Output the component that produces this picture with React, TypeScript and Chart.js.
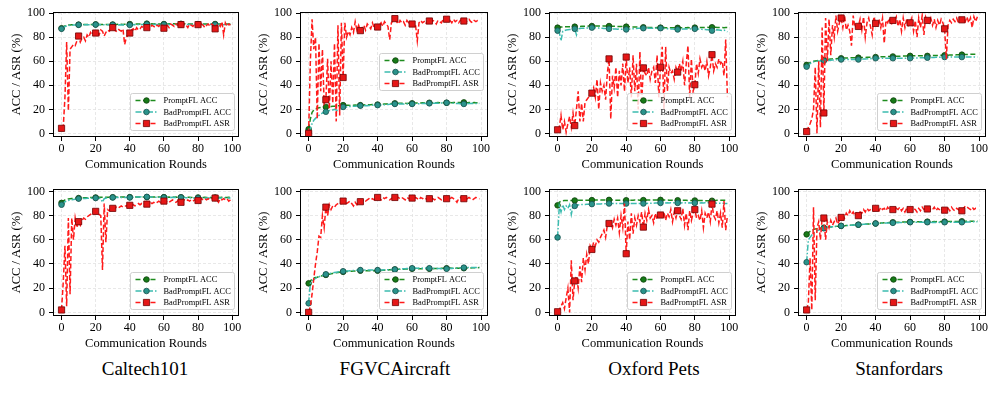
import React, { useEffect, useRef } from 'react';
import { Chart, registerables } from 'chart.js';
Chart.register(...registerables);

const ROUNDS = Array.from({ length: 100 }, (_, i) => i);
const X_TICKS = [0, 20, 40, 60, 80, 100];
const Y_TICKS = [0, 20, 40, 60, 80, 100];
const SERIES_NAMES = ['PromptFL ACC', 'BadPromptFL ACC', 'BadPromptFL ASR'];
const TITLES = ['Caltech101', 'FGVCAircraft', 'Oxford Pets', 'Stanfordars'];
const X_LABEL = 'Communication Rounds';
const Y_LABEL = 'ACC / ASR (%)';

// ---------- top row ----------
const P1_PROMPT = [87.5, 88.6, 89.4, 89.9, 90.1, 90.2, 90.3, 90.3, 90.4, 90.4, 90.5, 90.5, 90.4, 90.5, 90.6, 90.5, 90.6, 90.6, 90.5, 90.6, 90.7, 90.6, 90.6, 90.7, 90.6, 90.7, 90.6, 90.7, 90.7, 90.6, 90.6, 90.7, 90.7, 90.8, 90.7, 90.8, 90.7, 90.8, 90.8, 90.9, 91.0, 90.9, 90.9, 91.0, 91.0, 91.1, 91.0, 91.1, 91.1, 91.2, 91.3, 91.2, 91.1, 91.2, 91.1, 91.2, 91.1, 91.0, 91.1, 91.0, 91.0, 91.1, 91.0, 91.2, 91.1, 91.2, 91.2, 91.1, 91.2, 91.3, 91.2, 91.1, 91.2, 91.1, 91.0, 91.1, 91.0, 91.1, 91.0, 91.1, 91.0, 91.1, 91.0, 91.1, 91.0, 91.1, 91.0, 90.9, 91.0, 91.1, 91.0, 91.1, 91.0, 91.1, 91.2, 91.1, 91.0, 91.1, 91.0, 91.1];
const P1_BAD = [87.0, 88.0, 88.9, 89.4, 89.7, 89.9, 90.0, 90.1, 90.1, 90.2, 90.3, 90.2, 90.3, 90.3, 90.4, 90.3, 90.4, 90.4, 90.5, 90.4, 90.5, 90.4, 90.5, 90.4, 90.5, 90.4, 90.3, 90.4, 90.3, 90.4, 90.3, 90.2, 90.3, 90.2, 90.3, 90.2, 90.3, 90.2, 90.1, 90.2, 90.2, 90.3, 90.4, 90.5, 90.4, 90.5, 90.6, 90.5, 90.6, 90.7, 90.8, 90.7, 90.6, 90.7, 90.6, 90.7, 90.6, 90.5, 90.6, 90.5, 90.6, 90.5, 90.6, 90.5, 90.4, 90.5, 90.4, 90.5, 90.6, 90.5, 90.5, 90.6, 90.5, 90.6, 90.7, 90.6, 90.7, 90.6, 90.7, 90.8, 90.8, 90.7, 90.6, 90.7, 90.6, 90.5, 90.6, 90.5, 90.6, 90.5, 90.5, 90.6, 90.5, 90.6, 90.5, 90.4, 90.5, 90.6, 90.5, 90.6];
const P1_ASR = [4.2, 5, 30, 76, 19, 70, 72, 74, 73, 77, 81, 76, 79, 80, 77, 82, 80, 84, 82, 85, 83.5, 84, 82, 86, 85, 81, 84, 86, 85, 87, 88, 86, 85, 87, 86, 85, 87, 74, 80, 82, 83.5, 86, 87, 85, 88, 86, 87, 89, 88, 87, 88, 89, 88, 90, 89, 88, 90, 89, 91, 90, 87.5, 89, 90, 88, 91, 90, 89, 91, 90, 89, 90.5, 89, 91, 90, 88, 91, 90, 89, 91, 90, 90.5, 89, 91, 90, 88, 90, 91, 89, 91, 90, 87, 90, 91, 89, 93, 82, 92, 89, 91, 90];

const P2_PROMPT = [3.5, 12.0, 17.5, 19.5, 20.5, 21.0, 21.3, 21.5, 21.7, 21.8, 22.0, 22.2, 22.1, 22.3, 22.5, 22.6, 22.8, 23.0, 23.1, 23.3, 23.5, 23.3, 23.4, 23.5, 23.3, 23.4, 23.5, 23.6, 23.4, 23.5, 23.5, 23.6, 23.7, 23.8, 23.7, 23.9, 23.8, 24.0, 23.9, 24.0, 24.0, 24.1, 24.2, 24.3, 24.4, 24.5, 24.6, 24.7, 24.8, 24.9, 25.0, 24.9, 25.0, 25.1, 25.0, 25.1, 25.0, 24.9, 25.0, 25.1, 25.0, 25.1, 25.2, 25.3, 25.2, 25.3, 25.4, 25.3, 25.4, 25.5, 25.5, 25.4, 25.5, 25.6, 25.5, 25.6, 25.5, 25.4, 25.5, 25.6, 25.5, 25.6, 25.7, 25.6, 25.7, 25.8, 25.7, 25.8, 25.7, 25.8, 25.8, 25.7, 25.6, 25.7, 25.6, 25.5, 25.6, 25.5, 25.6, 25.5];
const P2_BAD = [1.0, 4.0, 8.0, 11.0, 12.5, 14.0, 15.0, 16.0, 17.0, 17.5, 18.0, 18.5, 19.0, 19.3, 19.5, 20.0, 19.5, 18.5, 19.5, 20.5, 22.0, 21.5, 22.0, 22.3, 22.5, 22.4, 22.6, 22.5, 22.8, 22.9, 23.0, 23.1, 23.0, 23.2, 23.1, 23.3, 23.2, 23.4, 23.3, 23.5, 23.5, 23.6, 23.7, 23.8, 23.9, 24.0, 24.1, 24.2, 24.3, 24.4, 24.5, 24.4, 24.5, 24.6, 24.5, 24.4, 24.5, 24.6, 24.5, 24.4, 24.5, 24.6, 24.7, 24.8, 24.7, 24.8, 24.9, 24.8, 24.9, 25.0, 25.0, 25.1, 25.0, 25.1, 25.2, 25.1, 25.2, 25.3, 25.4, 25.5, 25.5, 25.4, 25.3, 25.2, 25.1, 25.0, 24.9, 24.8, 24.7, 24.6, 24.5, 24.6, 24.7, 24.8, 24.9, 25.0, 24.9, 25.0, 24.9, 25.0];
const P2_ASR = [0, 60, 95, 70, 80, 12, 75, 35, 70, 25, 28, 62, 20, 60, 25, 75, 10, 90, 15, 92, 46.5, 92, 80, 85, 82, 88, 84, 93, 86, 90, 85.5, 88, 90, 86, 91, 89, 87, 92, 88, 90, 88.5, 90, 92, 89, 93, 91, 89, 78, 92, 94, 95.5, 93, 91, 94, 92, 93, 90, 94, 92, 93, 91, 92, 90, 77, 92, 94, 92, 93, 91, 94, 93.5, 92, 94, 93, 91, 94, 93, 92, 95, 94, 95, 93, 94, 92, 95, 93, 94, 92, 94, 95, 93.5, 92, 94, 95, 93, 92, 94, 93, 94, 94];

const P3_PROMPT = [88.0, 88.3, 88.5, 88.6, 88.7, 88.7, 88.8, 88.7, 88.8, 88.8, 88.8, 88.9, 89.0, 89.0, 89.1, 89.1, 89.2, 89.2, 89.3, 89.3, 89.3, 89.4, 89.3, 89.4, 89.3, 89.4, 89.3, 89.4, 89.3, 89.3, 89.3, 89.2, 89.2, 89.1, 89.1, 89.0, 89.0, 88.9, 88.9, 88.8, 88.8, 88.7, 88.7, 88.6, 88.6, 88.5, 88.5, 88.4, 88.4, 88.3, 88.3, 88.2, 88.3, 88.2, 88.1, 88.2, 88.1, 88.0, 88.1, 88.0, 88.0, 87.9, 88.0, 87.9, 87.8, 87.9, 87.8, 87.9, 87.8, 87.8, 87.8, 87.9, 87.8, 87.9, 88.0, 87.9, 88.0, 87.9, 88.0, 88.0, 88.0, 88.1, 88.0, 88.1, 88.2, 88.1, 88.2, 88.3, 88.2, 88.3, 88.3, 88.2, 88.3, 88.2, 88.1, 88.2, 88.1, 88.0, 88.1, 88.0];
const P3_BAD = [85.5, 84.0, 77.0, 85.0, 85.5, 86.0, 86.2, 86.4, 86.6, 86.8, 87.0, 82.0, 87.0, 87.2, 87.4, 87.5, 87.6, 87.7, 87.8, 87.9, 88.0, 87.9, 87.8, 87.7, 87.6, 87.5, 87.4, 87.3, 87.2, 87.1, 87.0, 86.9, 86.8, 86.9, 86.8, 86.7, 86.8, 86.7, 86.6, 86.5, 86.5, 86.7, 86.9, 87.0, 87.1, 87.2, 87.3, 87.4, 87.5, 87.4, 87.5, 87.6, 87.5, 87.6, 87.5, 87.4, 87.5, 87.6, 87.5, 87.4, 87.5, 87.4, 87.3, 87.2, 87.1, 87.0, 86.9, 86.8, 86.7, 86.6, 86.5, 86.6, 86.7, 86.8, 86.9, 87.0, 86.9, 87.0, 86.9, 87.0, 87.0, 86.9, 86.8, 86.7, 86.6, 86.5, 86.4, 86.3, 86.2, 86.0, 85.5, 85.8, 86.0, 86.2, 86.0, 85.8, 85.6, 86.0, 85.2, 84.5];
const P3_ASR = [3, 5, 15, 3, 10, 1, 8, 14, 5, 17, 6.5, 20, 35, 10, 25, 10, 26, 28, 30, 32, 33.5, 38, 30, 45, 20, 42, 35, 40, 28, 50, 62, 12, 48, 38, 55, 30, 52, 40, 58, 35, 63.5, 42, 55, 30, 65, 35, 58, 20, 68, 25, 54.5, 50, 48, 55, 45, 52, 55, 42, 65, 30, 55, 72, 20, 72, 35, 55, 50, 52, 45, 55, 51, 58, 52, 60, 40, 58, 73, 30, 62, 35, 40.5, 58, 50, 62, 55, 58, 52, 60, 48, 55, 65.5, 52, 58, 55, 62, 58, 60, 48, 78, 30];

const P4_PROMPT = [57.0, 58.0, 58.8, 59.5, 60.0, 60.3, 60.5, 60.6, 60.8, 60.9, 61.0, 61.2, 61.4, 61.6, 61.8, 62.0, 62.1, 62.2, 62.3, 62.4, 62.5, 62.6, 62.7, 62.7, 62.8, 62.8, 62.9, 62.9, 63.0, 63.0, 63.0, 63.1, 63.1, 63.2, 63.2, 63.3, 63.3, 63.4, 63.4, 63.5, 63.5, 63.6, 63.6, 63.7, 63.7, 63.8, 63.8, 63.9, 63.9, 64.0, 64.0, 64.1, 64.1, 64.2, 64.2, 64.3, 64.3, 64.4, 64.4, 64.5, 64.5, 64.5, 64.6, 64.5, 64.6, 64.5, 64.6, 64.5, 64.6, 64.5, 64.5, 64.6, 64.7, 64.7, 64.8, 64.8, 64.9, 64.9, 65.0, 65.0, 65.0, 65.1, 65.1, 65.2, 65.2, 65.3, 65.3, 65.4, 65.4, 65.5, 65.5, 65.6, 65.6, 65.7, 65.7, 65.8, 65.8, 65.9, 65.9, 66.0];
const P4_BAD = [55.5, 57.0, 58.0, 59.0, 59.5, 60.0, 60.1, 60.2, 60.3, 60.4, 60.5, 60.6, 60.7, 60.8, 60.9, 61.0, 61.1, 61.2, 61.3, 61.4, 61.5, 61.5, 61.6, 61.5, 61.6, 61.5, 61.6, 61.5, 61.6, 61.5, 61.5, 61.6, 61.7, 61.8, 61.9, 62.0, 62.1, 62.2, 62.3, 62.4, 62.5, 62.5, 62.6, 62.5, 62.6, 62.5, 62.6, 62.5, 62.6, 62.5, 62.5, 62.6, 62.5, 62.6, 62.5, 62.6, 62.5, 62.6, 62.5, 62.6, 62.5, 62.6, 62.7, 62.7, 62.8, 62.8, 62.9, 62.9, 63.0, 63.0, 63.0, 63.1, 63.1, 63.2, 63.2, 63.3, 63.3, 63.4, 63.4, 63.5, 63.5, 63.5, 63.6, 63.5, 63.6, 63.5, 63.6, 63.5, 63.6, 63.5, 63.5, 63.6, 63.5, 63.6, 63.5, 63.6, 63.5, 63.6, 63.5, 63.5];
const P4_ASR = [1.5, 5, 8, 12, 20, 55, 0, 60, 5, 88, 17, 96, 60, 95, 65, 90, 80, 98, 85, 92, 96, 88, 98, 86, 90, 85, 73, 98, 88, 90, 89, 95, 86, 97, 80, 92, 96, 89, 82, 97, 91.5, 90, 95, 88, 96, 75, 94, 92, 96, 90, 94, 93, 97, 89, 95, 85, 96, 88, 95, 90, 92, 96, 85, 94, 80, 96, 88, 98, 82, 97, 94, 92, 96, 90, 95, 88, 94, 90, 95, 92, 87, 62, 90, 94, 92, 95, 93, 96, 92, 94, 94.5, 96, 93, 97, 92, 96, 88, 97, 93, 97];

// ---------- bottom row ----------
const P5_PROMPT = [90.5, 92.0, 93.0, 93.5, 93.8, 94.0, 94.1, 94.2, 94.3, 94.4, 94.5, 94.6, 94.6, 94.7, 94.7, 94.8, 94.8, 94.9, 94.9, 95.0, 95.0, 95.0, 95.1, 95.1, 95.1, 95.1, 95.2, 95.2, 95.2, 95.2, 95.2, 95.2, 95.3, 95.3, 95.3, 95.3, 95.3, 95.3, 95.3, 95.3, 95.3, 95.3, 95.4, 95.3, 95.4, 95.3, 95.4, 95.3, 95.4, 95.3, 95.3, 95.4, 95.3, 95.4, 95.3, 95.4, 95.3, 95.4, 95.3, 95.4, 95.3, 95.3, 95.2, 95.3, 95.2, 95.3, 95.2, 95.3, 95.2, 95.2, 95.2, 95.1, 95.2, 95.1, 95.1, 95.1, 95.0, 95.1, 95.0, 95.0, 95.0, 95.0, 95.1, 95.0, 95.1, 95.0, 95.1, 95.0, 95.0, 95.0, 95.0, 95.0, 95.1, 95.0, 95.1, 95.0, 95.0, 95.0, 95.1, 95.0];
const P5_BAD = [89.0, 90.5, 91.5, 92.0, 92.5, 93.0, 93.2, 93.4, 93.6, 93.8, 94.0, 94.1, 94.1, 94.2, 94.2, 94.3, 94.3, 94.4, 94.4, 94.5, 94.5, 94.4, 94.3, 94.0, 91.0, 94.0, 94.5, 94.7, 94.8, 94.9, 95.0, 95.0, 95.0, 95.1, 95.0, 95.1, 95.0, 95.1, 95.0, 95.0, 95.0, 95.1, 95.2, 95.3, 95.3, 95.4, 95.4, 95.5, 95.5, 95.5, 95.5, 95.4, 95.4, 95.3, 95.3, 95.2, 95.2, 95.1, 95.1, 95.0, 95.0, 95.0, 95.1, 95.0, 95.1, 95.0, 95.1, 95.0, 95.0, 95.0, 95.0, 94.9, 94.9, 94.8, 94.8, 94.7, 94.7, 94.6, 94.6, 94.5, 94.5, 94.5, 94.6, 94.5, 94.6, 94.5, 94.6, 94.5, 94.5, 94.5, 94.5, 94.5, 94.6, 94.5, 94.6, 94.5, 94.6, 94.5, 94.5, 94.5];
const P5_ASR = [2, 25, 55, 5, 78, 15, 78, 60, 78, 70, 75, 72, 76, 78, 77, 79, 80, 81, 82, 84, 83.5, 82, 81, 80, 35, 90, 58, 85, 84, 86, 86, 85, 87, 86, 87, 88, 87, 88, 88, 89, 88.5, 88, 89, 88, 89, 90, 89, 90, 89, 90, 89.5, 90, 91, 90, 91, 90, 91, 92, 91, 92, 92, 91, 92, 91, 92, 93, 92, 91, 92, 93, 91, 92, 93, 92, 93, 92, 93, 92, 93, 94, 92.5, 93, 94, 93, 94, 93, 94, 93, 94, 95, 94.5, 93, 91, 94, 93, 94, 93, 94, 92, 93];

const P6_PROMPT = [24.0, 26.0, 27.5, 28.5, 28.8, 29.0, 29.5, 30.0, 30.3, 30.6, 31.0, 31.3, 31.6, 31.9, 32.2, 32.5, 32.8, 33.0, 33.2, 33.4, 33.5, 33.6, 33.7, 33.8, 33.9, 34.0, 34.1, 34.2, 34.3, 34.4, 34.5, 34.5, 34.5, 34.4, 34.5, 34.4, 34.5, 34.4, 34.5, 34.5, 34.5, 34.6, 34.7, 34.8, 34.9, 35.0, 35.1, 35.2, 35.3, 35.4, 35.5, 35.5, 35.6, 35.6, 35.7, 35.7, 35.8, 35.8, 35.9, 35.9, 36.0, 36.0, 36.1, 36.0, 36.1, 36.0, 36.1, 36.0, 36.1, 36.0, 36.0, 36.1, 36.1, 36.2, 36.2, 36.3, 36.3, 36.4, 36.4, 36.5, 36.5, 36.5, 36.6, 36.5, 36.6, 36.5, 36.6, 36.5, 36.6, 36.5, 36.5, 36.6, 36.6, 36.7, 36.7, 36.8, 36.8, 36.9, 36.9, 37.0];
const P6_BAD = [7.5, 24.0, 26.0, 27.0, 28.0, 29.0, 29.5, 30.0, 30.5, 31.0, 31.5, 31.8, 32.1, 32.4, 32.7, 33.0, 33.2, 33.4, 33.6, 33.8, 34.0, 34.1, 34.2, 34.3, 34.4, 34.5, 34.6, 34.7, 34.8, 34.9, 35.0, 35.0, 35.1, 35.0, 35.1, 35.0, 35.1, 35.0, 35.1, 35.0, 35.0, 35.0, 35.1, 35.1, 35.2, 35.2, 35.3, 35.3, 35.4, 35.4, 35.5, 35.6, 35.7, 35.8, 35.9, 36.0, 36.1, 36.2, 36.3, 36.4, 36.5, 36.5, 36.6, 36.5, 36.6, 36.5, 36.6, 36.5, 36.6, 36.5, 36.5, 36.4, 36.4, 36.3, 36.3, 36.2, 36.2, 36.1, 36.1, 36.0, 36.0, 36.1, 36.2, 36.3, 36.4, 36.5, 36.6, 36.7, 36.8, 36.9, 37.0, 37.0, 37.1, 37.0, 37.1, 37.0, 37.1, 37.0, 37.1, 37.0];
const P6_ASR = [0, 5, 15, 28, 40, 50, 63, 62, 80, 70, 87, 80, 89, 85, 88, 87, 89, 90, 91, 90, 92, 91, 90, 91, 92, 90, 88, 91, 89, 92, 91.5, 92, 93, 92, 93, 94, 93, 94, 93, 94, 95, 94, 93, 95, 94, 95, 94, 93, 94, 95, 95, 94, 95, 94, 95, 94, 93, 95, 94, 95, 94.5, 94, 95, 94, 93, 95, 94, 95, 94, 93, 94, 95, 94, 93, 94, 95, 94, 93, 94, 95, 94, 93, 94, 95, 94, 93, 91, 94, 95, 94, 94, 93, 94, 95, 94, 93, 94, 95, 94, 94];

const P7_PROMPT = [88.5, 91.0, 92.0, 92.3, 92.4, 92.5, 92.5, 92.6, 92.5, 92.6, 92.5, 92.6, 92.6, 92.7, 92.7, 92.7, 92.8, 92.8, 92.8, 92.8, 92.8, 92.9, 92.9, 92.9, 93.0, 92.9, 93.0, 92.9, 93.0, 93.0, 93.0, 92.9, 92.9, 92.8, 92.8, 92.8, 92.7, 92.7, 92.7, 92.7, 92.7, 92.7, 92.8, 92.8, 92.8, 92.9, 92.8, 92.9, 92.8, 92.8, 92.8, 92.8, 92.9, 92.9, 92.9, 92.9, 93.0, 93.0, 93.0, 93.0, 93.0, 93.0, 92.9, 92.9, 92.9, 92.8, 92.8, 92.8, 92.7, 92.7, 92.7, 92.7, 92.6, 92.6, 92.6, 92.6, 92.5, 92.5, 92.5, 92.5, 92.5, 92.5, 92.4, 92.4, 92.4, 92.4, 92.3, 92.3, 92.3, 92.3, 92.3, 92.4, 92.5, 92.6, 92.7, 92.7, 92.8, 92.8, 92.8, 92.8];
const P7_BAD = [62.0, 88.0, 83.0, 89.0, 85.0, 88.0, 86.0, 89.0, 81.0, 88.0, 88.0, 89.0, 88.8, 89.0, 89.1, 89.2, 89.2, 89.3, 89.3, 89.4, 89.5, 89.5, 89.6, 89.6, 89.7, 89.7, 89.8, 89.8, 89.9, 89.9, 90.0, 90.0, 90.1, 90.0, 90.1, 90.0, 90.1, 90.0, 90.1, 90.0, 90.0, 90.0, 90.1, 90.0, 90.1, 90.0, 90.1, 90.0, 90.1, 90.0, 90.0, 90.1, 90.1, 90.2, 90.2, 90.3, 90.3, 90.4, 90.4, 90.5, 90.5, 90.5, 90.6, 90.5, 90.6, 90.5, 90.6, 90.5, 90.6, 90.5, 90.5, 90.6, 90.5, 90.6, 90.5, 90.6, 90.5, 90.6, 90.5, 90.6, 90.5, 90.5, 90.6, 90.5, 90.6, 90.5, 90.6, 90.5, 90.6, 90.5, 90.5, 90.4, 90.4, 90.3, 90.3, 90.2, 90.2, 90.1, 90.1, 90.0];
const P7_ASR = [0.5, 2, 5, 8, 3, 12, 20, 0, 43, 10, 26, 30, 20, 38, 25, 45, 35, 48, 40, 55, 52, 58, 55, 60, 58, 62, 65, 68, 62, 72, 73.5, 75, 70, 77, 72, 78, 66, 80, 70, 90, 48.5, 75, 60, 82, 65, 78, 72, 80, 75, 83, 70.5, 82, 76, 85, 78, 80, 74, 82, 77, 80, 80.5, 78, 83, 76, 82, 79, 85, 75, 83, 78, 84, 80, 77, 86, 72, 82, 68, 84, 76, 82, 85, 78, 80, 76, 84, 70, 82, 78, 83, 75, 89.5, 80, 77, 84, 74, 82, 70, 92, 68, 80];

const P8_PROMPT = [64.5, 66.0, 67.0, 67.8, 68.4, 69.0, 69.2, 69.4, 69.6, 69.8, 70.0, 70.2, 70.3, 70.5, 70.6, 70.8, 70.9, 71.1, 71.2, 71.4, 71.5, 71.6, 71.7, 71.8, 71.9, 72.0, 72.1, 72.2, 72.3, 72.4, 72.5, 72.6, 72.7, 72.8, 72.9, 73.0, 73.1, 73.2, 73.3, 73.4, 73.5, 73.6, 73.7, 73.8, 73.9, 74.0, 74.1, 74.2, 74.3, 74.4, 74.5, 74.5, 74.6, 74.6, 74.6, 74.7, 74.7, 74.7, 74.8, 74.8, 74.8, 74.8, 74.9, 74.9, 74.9, 74.9, 75.0, 75.0, 75.0, 75.0, 75.0, 75.0, 75.1, 75.0, 75.1, 75.0, 75.1, 75.0, 75.1, 75.0, 75.0, 75.0, 75.1, 75.1, 75.1, 75.1, 75.2, 75.2, 75.2, 75.2, 75.3, 75.3, 75.3, 75.3, 75.4, 75.4, 75.4, 75.4, 75.5, 75.5];
const P8_BAD = [41.5, 60.0, 62.0, 64.0, 65.5, 67.0, 67.5, 68.0, 68.5, 69.0, 69.5, 69.8, 70.0, 70.3, 70.5, 70.7, 70.9, 71.1, 71.3, 71.4, 71.5, 71.6, 71.7, 71.8, 71.9, 72.0, 72.1, 72.2, 72.3, 72.4, 72.5, 72.6, 72.7, 72.8, 72.9, 73.0, 73.1, 73.2, 73.3, 73.4, 73.5, 73.5, 73.6, 73.6, 73.7, 73.7, 73.8, 73.8, 73.9, 73.9, 74.0, 74.0, 74.1, 74.1, 74.2, 74.2, 74.3, 74.3, 74.4, 74.4, 74.5, 74.5, 74.6, 74.5, 74.6, 74.5, 74.6, 74.5, 74.6, 74.5, 74.5, 74.4, 74.5, 74.4, 74.5, 74.4, 74.5, 74.4, 74.5, 74.4, 74.5, 74.5, 74.6, 74.5, 74.6, 74.5, 74.6, 74.5, 74.6, 74.5, 74.5, 74.6, 74.6, 74.7, 74.7, 74.8, 74.8, 74.9, 74.9, 75.0];
const P8_ASR = [2, 8, 45, 2, 87, 10, 70, 75, 60, 78, 78, 60, 75, 70, 76, 72, 75, 78, 73, 76, 78.5, 80, 78, 82, 80, 84, 81, 83, 80, 82, 80, 83, 82, 85, 83, 86, 84, 85, 86, 84, 86, 85, 84, 87, 85, 86, 84, 87, 85, 86, 85, 84, 86, 85, 87, 84, 86, 83, 86, 85, 85, 84, 86, 85, 83, 86, 84, 87, 85, 86, 85.5, 84, 86, 85, 87, 84, 86, 85, 84, 86, 84.5, 85, 86, 84, 87, 85, 84, 86, 85, 84, 84, 86, 88, 87, 86, 85, 87, 85, 86, 86];

type PanelCfg = {
  prompt: number[]; bad: number[]; asr: number[];
  legend: 'lr' | 'cr'; row: number; col: number;
};

const PANELS: PanelCfg[] = [
  { prompt: P1_PROMPT, bad: P1_BAD, asr: P1_ASR, legend: 'lr', row: 0, col: 0 },
  { prompt: P2_PROMPT, bad: P2_BAD, asr: P2_ASR, legend: 'cr', row: 0, col: 1 },
  { prompt: P3_PROMPT, bad: P3_BAD, asr: P3_ASR, legend: 'lr', row: 0, col: 2 },
  { prompt: P4_PROMPT, bad: P4_BAD, asr: P4_ASR, legend: 'lr', row: 0, col: 3 },
  { prompt: P5_PROMPT, bad: P5_BAD, asr: P5_ASR, legend: 'lr', row: 1, col: 0 },
  { prompt: P6_PROMPT, bad: P6_BAD, asr: P6_ASR, legend: 'lr', row: 1, col: 1 },
  { prompt: P7_PROMPT, bad: P7_BAD, asr: P7_ASR, legend: 'lr', row: 1, col: 2 },
  { prompt: P8_PROMPT, bad: P8_BAD, asr: P8_ASR, legend: 'lr', row: 1, col: 3 },
];

// layout (px)
const COL_LEFT = [53, 300, 549, 798];
const COL_W = [186, 188, 187, 188];
const ROW_TOP = [12, 189];
const ROW_H = [125, 127];
const ROW_YMAX = [101, 102];
const Y_AXIS_W = 54;
const X_AXIS_H = 38;
const PAD_TOP = 12;
const PAD_RIGHT = 6;
const TITLE_X = [145, 395, 654, 899];

const FONT = '"Liberation Serif", "Times New Roman", "DejaVu Serif", serif';

const STYLES = [
  { line: '#1e8c1e', face: '#177a17', edge: '#0b3f0b', dash: [5, 2.5], shape: 'circle', r: 2.8 },
  { line: '#3cbcb0', face: '#2a938b', edge: '#174f4b', dash: [6, 2, 1.5, 2], shape: 'circle', r: 2.8 },
  { line: '#ff1a1a', face: '#e51717', edge: '#700000', dash: [5, 2.5], shape: 'rect', r: 4.4 },
];

function drawMarker(ctx: CanvasRenderingContext2D, st: any, x: number, y: number) {
  ctx.setLineDash([]);
  ctx.fillStyle = st.face;
  ctx.strokeStyle = st.edge;
  ctx.lineWidth = 0.8;
  ctx.beginPath();
  if (st.shape === 'rect') {
    const s = st.r * Math.SQRT1_2;
    ctx.rect(x - s, y - s, 2 * s, 2 * s);
  } else {
    ctx.arc(x, y, st.r, 0, Math.PI * 2);
  }
  ctx.fill();
  ctx.stroke();
}

const framePlugin = {
  id: 'frameLegend',
  afterDatasetsDraw(chart: any, _args: any, opts: any) {
    const ctx: CanvasRenderingContext2D = chart.ctx;
    const ca = chart.chartArea;
    ctx.save();
    // spines
    ctx.strokeStyle = '#000';
    ctx.lineWidth = 1;
    ctx.setLineDash([]);
    const l = Math.round(ca.left) + 0.5, t = Math.round(ca.top) + 0.5;
    const r = Math.round(ca.right) - 0.5, b = Math.round(ca.bottom) - 0.5;
    ctx.strokeRect(l, t, r - l, b - t);
    // legend
    const w = 104, h = 37;
    const x = Math.round(ca.right - 5 - w) + 0.5;
    const y = opts.mode === 'cr'
      ? Math.round((ca.top + ca.bottom) / 2 - h / 2 - 3) + 0.5
      : Math.round(ca.bottom - 7 - h) + 0.5;
    const rad = 2;
    ctx.beginPath();
    ctx.moveTo(x + rad, y);
    ctx.lineTo(x + w - rad, y);
    ctx.quadraticCurveTo(x + w, y, x + w, y + rad);
    ctx.lineTo(x + w, y + h - rad);
    ctx.quadraticCurveTo(x + w, y + h, x + w - rad, y + h);
    ctx.lineTo(x + rad, y + h);
    ctx.quadraticCurveTo(x, y + h, x, y + h - rad);
    ctx.lineTo(x, y + rad);
    ctx.quadraticCurveTo(x, y, x + rad, y);
    ctx.closePath();
    ctx.fillStyle = 'rgba(255,255,255,0.8)';
    ctx.fill();
    ctx.strokeStyle = '#d0d0d0';
    ctx.lineWidth = 1;
    ctx.stroke();
    for (let i = 0; i < 3; i++) {
      const st = STYLES[i];
      const yy = y + 7 + i * 11.5;
      ctx.setLineDash(st.dash);
      ctx.strokeStyle = st.line;
      ctx.lineWidth = 1.5;
      ctx.beginPath();
      ctx.moveTo(x + 5, yy);
      ctx.lineTo(x + 27, yy);
      ctx.stroke();
      drawMarker(ctx, st, x + 16, yy);
      ctx.fillStyle = '#000';
      ctx.font = `8.4px ${FONT}`;
      ctx.textBaseline = 'middle';
      ctx.textAlign = 'left';
      ctx.fillText(SERIES_NAMES[i], x + 33, yy + 0.5);
    }
    ctx.restore();
  },
};

function Panel({ cfg }: { cfg: PanelCfg }) {
  const ref = useRef<HTMLCanvasElement>(null);
  const plotW = COL_W[cfg.col];
  const plotH = ROW_H[cfg.row];
  const cw = Y_AXIS_W + plotW + PAD_RIGHT;
  const chh = PAD_TOP + plotH + X_AXIS_H;
  const left = COL_LEFT[cfg.col] - Y_AXIS_W;
  const top = ROW_TOP[cfg.row] - PAD_TOP;

  useEffect(() => {
    if (!ref.current) return;
    const series = [cfg.prompt, cfg.bad, cfg.asr];
    const datasets = series.map((vals, i) => {
      const st = STYLES[i];
      return {
        label: SERIES_NAMES[i],
        data: vals.map((v, k) => ({ x: ROUNDS[k], y: v })),
        borderColor: st.line,
        borderWidth: 1.5,
        borderDash: st.dash,
        tension: 0,
        fill: false,
        order: 2 - i,
        pointStyle: st.shape,
        pointRadius: (c: any) => (c.dataIndex % 10 === 0 ? st.r : 0),
        pointHoverRadius: 0,
        pointBackgroundColor: st.face,
        pointBorderColor: st.edge,
        pointBorderWidth: 0.8,
      };
    });
    const tickFont = { family: FONT, size: 12 };
    const titleFont = { family: FONT, size: 12.5 };
    const chart = new Chart(ref.current, {
      type: 'line',
      data: { datasets },
      plugins: [framePlugin],
      options: {
        animation: false,
        responsive: false,
        devicePixelRatio: 1,
        events: [],
        layout: { padding: { top: PAD_TOP, right: PAD_RIGHT, left: 0, bottom: 0 } },
        plugins: {
          legend: { display: false },
          tooltip: { enabled: false },
          frameLegend: { mode: cfg.legend },
        } as any,
        scales: {
          x: {
            type: 'linear',
            min: -5,
            max: 104,
            afterBuildTicks: (s: any) => { s.ticks = X_TICKS.map((v) => ({ value: v })); },
            afterFit: (s: any) => { s.height = X_AXIS_H; },
            ticks: { font: tickFont, color: '#000', padding: 1, maxRotation: 0, autoSkip: false, callback: (v: any) => String(v) },
            grid: { color: '#e2e2e2', lineWidth: 0.8, tickColor: '#000', tickLength: 4, tickWidth: 1, tickBorderDash: [] },
            border: { display: false, dash: [3, 2] },
            title: { display: true, text: X_LABEL, font: titleFont, color: '#000', padding: { top: 0, bottom: 3 } },
          },
          y: {
            type: 'linear',
            min: -3,
            max: ROW_YMAX[cfg.row],
            afterBuildTicks: (s: any) => { s.ticks = Y_TICKS.map((v) => ({ value: v })); },
            afterFit: (s: any) => { s.width = Y_AXIS_W; },
            ticks: { font: tickFont, color: '#000', padding: 4, autoSkip: false, callback: (v: any) => String(v) },
            grid: { color: '#e2e2e2', lineWidth: 0.8, tickColor: '#000', tickLength: 4, tickWidth: 1, tickBorderDash: [] },
            border: { display: false, dash: [3, 2] },
            title: { display: true, text: Y_LABEL, font: titleFont, color: '#000', padding: { top: 10, bottom: 0 } },
          },
        },
      } as any,
    });
    return () => chart.destroy();
  }, []);

  return (
    <canvas
      ref={ref}
      width={cw}
      height={chh}
      style={{ position: 'absolute', left, top, width: cw, height: chh }}
    />
  );
}

export default function App() {
  return (
    <div style={{ position: 'absolute', left: 0, top: 0, width: 997, height: 393, background: '#fff', overflow: 'hidden' }}>
      {PANELS.map((p, i) => (
        <Panel key={i} cfg={p} />
      ))}
      {TITLES.map((t, i) => (
        <div
          key={t}
          style={{
            position: 'absolute',
            left: TITLE_X[i] - 100,
            top: 357,
            width: 200,
            height: 24,
            lineHeight: '24px',
            textAlign: 'center',
            fontFamily: FONT,
            fontSize: 19,
            color: '#000',
          }}
        >
          {t}
        </div>
      ))}
    </div>
  );
}
